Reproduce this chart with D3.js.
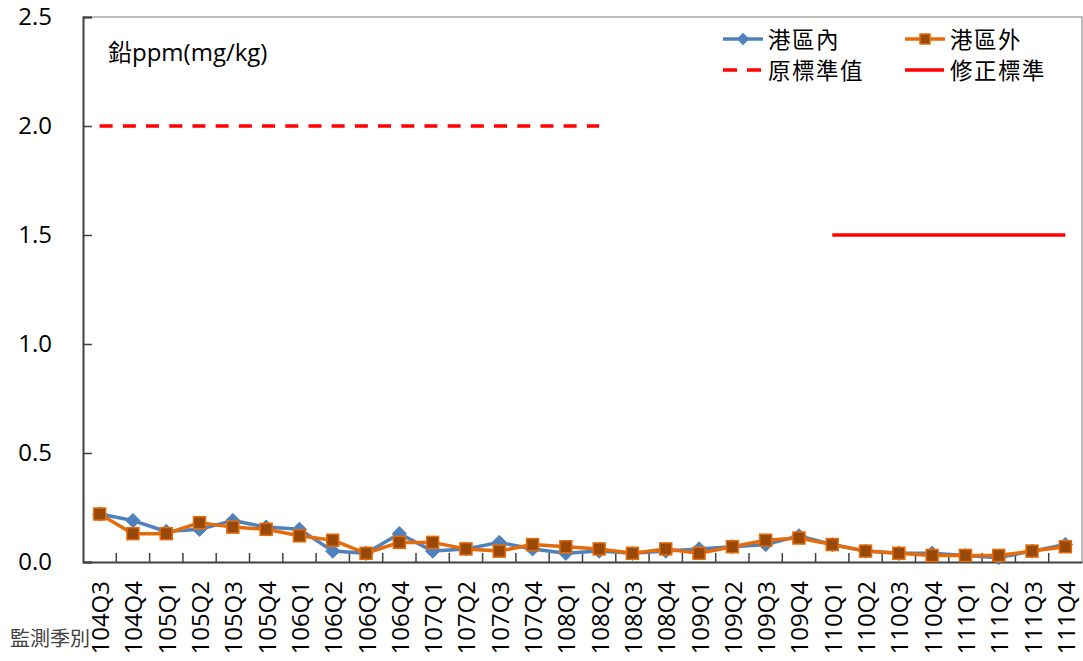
<!DOCTYPE html>
<html><head><meta charset="utf-8">
<script src="https://cdn.jsdelivr.net/npm/d3@7"></script>
<style>
body{margin:0;background:#fff;}
text{font-family:"Open Sans","Noto Sans CJK TC",sans-serif;}
</style></head>
<body><svg id="c" width="1083" height="661"></svg>
<script>
const categories=["104Q3","104Q4","105Q1","105Q2","105Q3","105Q4","106Q1","106Q2","106Q3","106Q4","107Q1","107Q2","107Q3","107Q4","108Q1","108Q2","108Q3","108Q4","109Q1","109Q2","109Q3","109Q4","110Q1","110Q2","110Q3","110Q4","111Q1","111Q2","111Q3","111Q4"];
const inner=[0.22,0.19,0.14,0.15,0.19,0.16,0.15,0.05,0.04,0.13,0.05,0.06,0.09,0.06,0.04,0.05,0.04,0.05,0.06,0.07,0.08,0.12,0.08,0.05,0.04,0.04,0.03,0.02,0.05,0.08];
const outer=[0.22,0.13,0.13,0.18,0.16,0.15,0.12,0.10,0.04,0.09,0.09,0.06,0.05,0.08,0.07,0.06,0.04,0.06,0.04,0.07,0.10,0.11,0.08,0.05,0.04,0.03,0.03,0.03,0.05,0.07];
const oldStd=[2,2,2,2,2,2,2,2,2,2,2,2,2,2,2,2,null,null,null,null,null,null,null,null,null,null,null,null,null,null];
const newStd=[null,null,null,null,null,null,null,null,null,null,null,null,null,null,null,null,null,null,null,null,null,null,1.5,1.5,1.5,1.5,1.5,1.5,1.5,1.5];
const yTicks=[0,0.5,1.0,1.5,2.0,2.5];
const seriesNames=["港區內","港區外","原標準值","修正標準"];

const FF='"Open Sans","Noto Sans CJK TC",sans-serif';
const svg=d3.select("#c");
const L=83,R=1082,T=17,B=562;
const x=d3.scaleBand().domain(categories).range([L,R]);
const y=d3.scaleLinear().domain([0,2.5]).range([B,T]);
const cx=c=>x(c)+x.bandwidth()/2;

// frame
svg.append("path").attr("d",`M${L},${T}H${R}V${B}`).attr("fill","none").attr("stroke","#a6a6a6").attr("stroke-width",1.5);

// y axis
const ya=svg.append("g").attr("transform",`translate(${L},0)`).call(d3.axisLeft(y).tickValues(yTicks).tickSize(-9).tickFormat(d3.format(".1f")).tickPadding(31));
ya.select(".domain").attr("stroke","#404040").attr("stroke-width",2);
ya.selectAll(".tick line").attr("stroke","#404040").attr("stroke-width",1.5);
ya.selectAll("text").attr("font-size",24).attr("fill","#000").attr("font-family",FF);

// x axis
const xa=svg.append("g").attr("transform",`translate(0,${B})`).call(d3.axisBottom(x).tickSize(0).tickPadding(0));
xa.select(".domain").attr("stroke","#404040").attr("stroke-width",2);
xa.selectAll(".tick text").attr("font-size",24).attr("fill","#000").attr("font-family",FF)
  .attr("text-anchor","end").attr("dy",null).attr("y",0)
  .attr("transform","translate(0,19) rotate(-90)").attr("dominant-baseline","central");
// inside tick marks at band boundaries
const bounds=categories.slice(1).map(c=>x(c));
svg.append("g").selectAll("line").data(bounds).join("line")
  .attr("x1",d=>d).attr("x2",d=>d).attr("y1",B-9).attr("y2",B)
  .attr("stroke","#404040").attr("stroke-width",1.5);

// standard lines
const line=d3.line().defined(d=>d.v!=null).x(d=>cx(d.c)).y(d=>y(d.v));
svg.append("path").datum(categories.map((c,i)=>({c,v:oldStd[i]})))
  .attr("d",line).attr("fill","none").attr("stroke","#ff0000").attr("stroke-width",3.5).attr("stroke-dasharray","13,10.2");
svg.append("path").datum(categories.map((c,i)=>({c,v:newStd[i]})))
  .attr("d",line).attr("fill","none").attr("stroke","#ff0000").attr("stroke-width",3.5);

// data series
const blue="#4f81bd",orange="#e46c0a",brown="#984807";
const dIn=categories.map((c,i)=>({c,v:inner[i]}));
const dOut=categories.map((c,i)=>({c,v:outer[i]}));
svg.append("path").datum(dIn).attr("d",line).attr("fill","none").attr("stroke",blue).attr("stroke-width",3.5).attr("stroke-linejoin","round");
svg.append("g").selectAll("path").data(dIn).join("path")
  .attr("d",d3.symbol(d3.symbolDiamond2,130)).attr("transform",d=>`translate(${cx(d.c)},${y(d.v)})`)
  .attr("fill",blue).attr("stroke",blue).attr("stroke-width",1);
svg.append("path").datum(dOut).attr("d",line).attr("fill","none").attr("stroke",orange).attr("stroke-width",3.5).attr("stroke-linejoin","round");
svg.append("g").selectAll("rect").data(dOut).join("rect")
  .attr("x",d=>cx(d.c)-6).attr("y",d=>y(d.v)-6).attr("width",12).attr("height",12)
  .attr("fill",brown).attr("stroke",orange).attr("stroke-width",1.5);

// title label
svg.append("text").attr("x",108).attr("y",51).attr("dominant-baseline","central").attr("font-size",24).attr("fill","#000").text("鉛ppm(mg/kg)");

// legend
const lg=svg.append("g");
const items=[
  {n:seriesNames[0],x:723,y:39,type:"in"},
  {n:seriesNames[1],x:905,y:39,type:"out"},
  {n:seriesNames[2],x:723,y:70,type:"dash"},
  {n:seriesNames[3],x:905,y:70,type:"solid"}];
items.forEach(it=>{
  const g=lg.append("g");
  if(it.type==="in"){
    g.append("line").attr("x1",it.x).attr("x2",it.x+40).attr("y1",it.y).attr("y2",it.y).attr("stroke",blue).attr("stroke-width",3.5);
    g.append("path").attr("d",d3.symbol(d3.symbolDiamond2,100)).attr("transform",`translate(${it.x+20},${it.y})`).attr("fill",blue);
  } else if(it.type==="out"){
    g.append("line").attr("x1",it.x).attr("x2",it.x+40).attr("y1",it.y).attr("y2",it.y).attr("stroke",orange).attr("stroke-width",3.5);
    g.append("rect").attr("x",it.x+15).attr("y",it.y-5).attr("width",10).attr("height",10).attr("fill",brown).attr("stroke",orange).attr("stroke-width",1.5);
  } else {
    g.append("line").attr("x1",it.x).attr("x2",it.x+39).attr("y1",it.y).attr("y2",it.y).attr("stroke","#ff0000").attr("stroke-width",3.5)
      .attr("stroke-dasharray",it.type==="dash"?"14,10":null);
  }
  g.append("text").attr("x",it.x+45).attr("y",it.y).attr("dominant-baseline","central").attr("font-size",22.5)
    .attr("letter-spacing",1.5).attr("fill","#000").text(it.n);
});

// x axis title
svg.append("text").attr("x",10).attr("y",638).attr("dominant-baseline","central").attr("font-size",20).attr("fill","#404040").text("監測季別");
</script></body></html>
